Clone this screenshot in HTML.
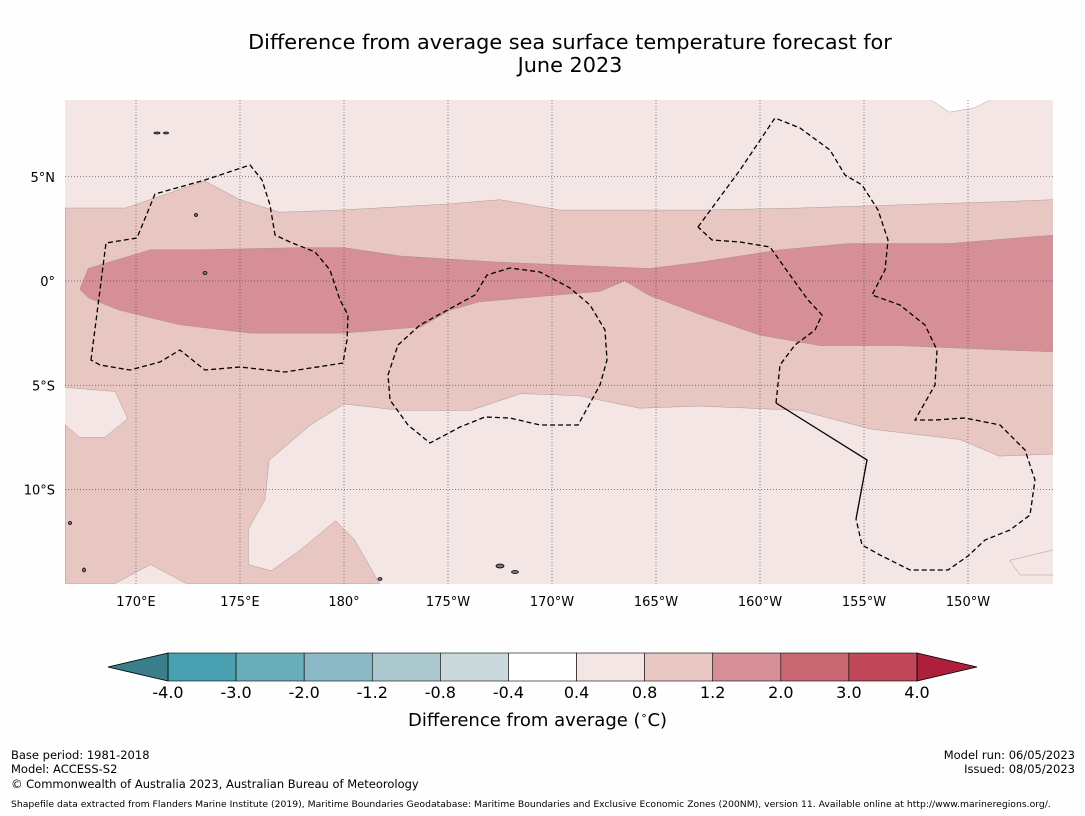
<!DOCTYPE html>
<html><head><meta charset="utf-8">
<style>
body{margin:0;background:#fefefe;font-family:"DejaVu Sans","Liberation Sans",sans-serif;}
#wrap{position:relative;width:1085px;height:816px;overflow:hidden;background:#fefefe;}
.t{position:absolute;white-space:nowrap;color:#000;}
</style></head>
<body>
<div id="wrap">
<div class="t" style="left:0;width:1140px;top:31px;text-align:center;font-size:20.8px;line-height:23px;">Difference from average sea surface temperature forecast for<br>June 2023</div>
<svg id="svg" width="1085" height="816" style="position:absolute;left:0;top:0"></svg>
<div class="t" style="left:408px;top:709px;font-size:18px;">Difference from average (<sup style="font-size:11px">∘</sup>C)</div>
<div class="t" style="left:11px;top:748px;font-size:11.5px;line-height:14px;">Base period: 1981-2018<br>Model: ACCESS-S2</div>
<div class="t" style="left:11px;top:777px;font-size:11.5px;">© Commonwealth of Australia 2023, Australian Bureau of Meteorology</div>
<div class="t" style="right:10px;top:748px;font-size:11.5px;line-height:14px;text-align:right;">Model run: 06/05/2023<br>Issued: 08/05/2023</div>
<div class="t" style="left:11px;top:799px;font-size:9.25px;">Shapefile data extracted from Flanders Marine Institute (2019), Maritime Boundaries Geodatabase: Maritime Boundaries and Exclusive Economic Zones (200NM), version 11. Available online at http://www.marineregions.org/.</div>
</div>
<script>
// colorbar data
const cbBounds = [-4.0,-3.0,-2.0,-1.2,-0.8,-0.4,0.4,0.8,1.2,2.0,3.0,4.0];
const cbLabels = ["-4.0","-3.0","-2.0","-1.2","-0.8","-0.4","0.4","0.8","1.2","2.0","3.0","4.0"];
const cbColors = ["#48a0b1","#6aaebb","#8bb9c5","#aac8cd","#c9d9dc","#ffffff","#f4e6e5","#e8c6c2","#d68f96","#c96873","#c04858"];
const cbUnder = "#3a7f8a", cbOver = "#ad1f3a";
// map axis data
const lonTicks = [170,175,180,185,190,195,200,205,210];
const lonLabels = ["170°E","175°E","180°","175°W","170°W","165°W","160°W","155°W","150°W"];
const latTicks = [5,0,-5,-10];
const latLabels = ["5°N","0°","5°S","10°S"];
// contour regions [lon(0-360), lat]
const band08 = [[166.6,3.5],[169.5,3.5],[173.3,4.8],[175,3.9],[176.9,3.3],[179.8,3.4],[185.1,3.7],[187.5,3.9],[190.4,3.4],[197.1,3.4],[201.9,3.5],[211.5,3.8],[214.1,3.9],
 [214.1,-8.3],[211.5,-8.4],[209.6,-7.6],[205.3,-7.1],[201.9,-6.2],[197.1,-6],[194.2,-6.1],[191.3,-5.5],[188.5,-5.4],[186.1,-6.2],[182.7,-6.2],[180,-5.9],[178.4,-6.9],[176.4,-8.6],[176.2,-10.5],[175.4,-11.9],[175.4,-13.6],[176.5,-13.9],[177.9,-12.9],[179.6,-11.5],[180.5,-12.4],[181.7,-14.5],
 [172.4,-14.5],[170.7,-13.6],[169,-14.5],[166.6,-14.5],[166.6,-6.9],[167.3,-7.5],[168.5,-7.5],[169.6,-6.6],[169,-5.3],[166.6,-5.1]];
const band12 = [[167.7,0.6],[170.7,1.5],[173.1,1.5],[177.9,1.6],[180,1.6],[182.7,1.2],[187.5,0.9],[192.3,0.7],[194.7,0.6],[197.1,0.9],[201,1.5],[204.3,1.8],[209.1,1.8],[214.1,2.2],
 [214.1,-3.4],[211.5,-3.3],[206.7,-3.1],[202.9,-3.1],[200,-2.6],[197.1,-1.6],[194.7,-0.7],[193.5,0],[192.3,-0.5],[189.9,-0.7],[186.5,-1],[185.1,-1.4],[183.7,-2.2],[180,-2.5],[175.5,-2.5],[172.1,-2.1],[169.2,-1.4],[167.7,-0.8],[167.3,-0.4]];
const lightPatch = [[214.1,-12.9],[212,-13.4],[212.5,-14.1],[214.1,-14.1]];
const topPatch = [[208.2,8.7],[209.1,8.1],[210.3,8.3],[211.1,8.7]];

const M={x0:65,x1:1053,y0:100,y1:584};
const px=lon=>136+(lon-170)*20.8;
const py=lat=>281-lat*20.85;
const svg=document.getElementById('svg');
const NS='http://www.w3.org/2000/svg';
function mk(tag,attrs,parent){const e=document.createElementNS(NS,tag);for(const k in attrs)e.setAttribute(k,attrs[k]);(parent||svg).appendChild(e);return e;}
const defs=mk('defs',{});
const cp=mk('clipPath',{id:'mc'},defs);
mk('rect',{x:M.x0,y:M.y0,width:M.x1-M.x0,height:M.y1-M.y0},cp);
const g=mk('g',{'clip-path':'url(#mc)'});


const bg=mk('rect',{x:M.x0,y:M.y0,width:M.x1-M.x0,height:M.y1-M.y0,fill:cbColors[6]},g);


function poly(pts,fill,name){const p=mk('polygon',{points:pts.map(q=>px(q[0])+','+py(q[1])).join(' '),fill:fill,stroke:'#9a8a8a','stroke-width':0.4},g);

}
poly(band08,cbColors[7],'anomaly-0.8-1.2-region');
poly(band12,cbColors[8],'anomaly-1.2-2.0-region');
poly(lightPatch,cbColors[6],'anomaly-0.4-0.8-patch');
poly(topPatch,'#ffffff','neutral-patch');
// grid
lonTicks.forEach((l,i)=>{const x=px(l);
 const ln=mk('line',{x1:x,x2:x,y1:M.y0,y2:M.y1,stroke:'#555','stroke-width':0.7,'stroke-dasharray':'1,2'},g);
 
 
 const t=mk('text',{x:x,y:606,'text-anchor':'middle','font-size':13,'font-family':'DejaVu Sans, Liberation Sans, sans-serif'});
 t.textContent=lonLabels[i];
 
 });
latTicks.forEach((l,i)=>{const y=py(l);
 const ln=mk('line',{x1:M.x0,x2:M.x1,y1:y,y2:y,stroke:'#555','stroke-width':0.7,'stroke-dasharray':'1,2'},g);
 
 
 const t=mk('text',{x:55,y:y+5,'text-anchor':'end','font-size':13,'font-family':'DejaVu Sans, Liberation Sans, sans-serif'});
 t.textContent=latLabels[i];
 
 });
// EEZ boundaries (geography)
const eez=[
 "M91,360 L106,243 L137,238 L155,194 L205,180 L250,165 L262,180 L270,205 L275,235 L290,242 L315,252 L330,270 L340,300 L348,315 L347,340 L343,363 L285,372 L240,367 L205,370 L195,362 L180,350 L160,362 L130,370 L100,365 Z",
 "M398,345 L420,325 L475,295 L487,275 L510,268 L540,272 L570,288 L590,305 L605,330 L607,360 L600,385 L578,425 L540,425 L510,418 L485,417 L460,427 L430,443 L408,425 L390,400 L388,375 Z",
 "M698,227 L740,170 L775,118 L800,128 L830,150 L845,175 L862,185 L878,210 L888,240 L885,270 L872,295 L900,305 L925,325 L937,350 L935,385 L915,420 L935,420 L965,418 L1000,425 L1025,450 L1035,480 L1030,515 L1010,530 L985,540 L968,556 L948,570 L910,570 L880,555 L862,545 L856,519",
 "M776,403 L780,365 L795,345 L815,330 L822,315 L808,300 L790,275 L770,247 L740,242 L712,240 L698,227"];
eez.forEach(d=>{const p=mk('path',{d:d,fill:'none',stroke:'#000','stroke-width':1.3,'stroke-dasharray':'5,3'},g);
 
 });
const sl=mk('path',{d:"M856,519 L867,460 L776,403",fill:'none',stroke:'#000','stroke-width':1.3},g);


// islands (small)
[[500,566,8,4],[515,572,7,3],[157,133,6,2],[166,133,5,2],[70,523,3,3],[84,570,3,4],[380,579,4,3],[196,215,3,3],[205,273,4,3]].forEach(a=>{
 const e=mk('ellipse',{cx:a[0],cy:a[1],rx:a[2]/2,ry:a[3]/2,fill:'#777',stroke:'#000','stroke-width':0.8},g);
 
 });
// colorbar
const C={x0:168,x1:917,y0:653,y1:681};
const seg=(C.x1-C.x0)/(cbBounds.length-1);
const cx=i=>C.x0+i*seg;
cbColors.forEach((c,i)=>{const r=mk('rect',{x:cx(i),y:C.y0,width:seg,height:C.y1-C.y0,fill:c,stroke:'#000','stroke-width':0.6});
 
 });
const tl=mk('polygon',{points:`${C.x0},${C.y0} ${C.x0-60},${(C.y0+C.y1)/2} ${C.x0},${C.y1}`,fill:cbUnder,stroke:'#000','stroke-width':0.8});


const tr=mk('polygon',{points:`${C.x1},${C.y0} ${C.x1+60},${(C.y0+C.y1)/2} ${C.x1},${C.y1}`,fill:cbOver,stroke:'#000','stroke-width':0.8});


cbLabels.forEach((l,i)=>{const t=mk('text',{x:cx(i),y:698,'text-anchor':'middle','font-size':16,'font-family':'DejaVu Sans, Liberation Sans, sans-serif'});
 t.textContent=l;
 
 });
</script>
</body></html>
